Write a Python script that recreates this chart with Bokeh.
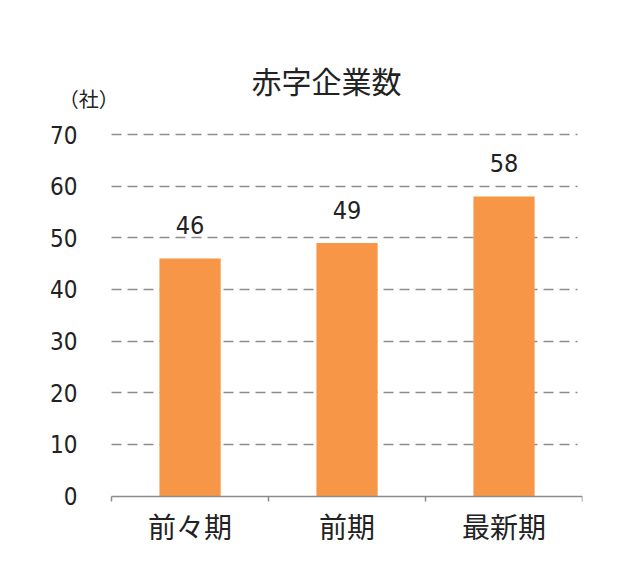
from bokeh.plotting import figure
from bokeh.models import Range1d, LinearAxis, FixedTicker, Label, ColumnDataSource, Grid
from bokeh.core.properties import value
from bokeh.embed import file_html
from bokeh.resources import INLINE

title_text = "赤字企業数"
unit_text = "（社）"
categories = ["前々期", "前期", "最新期"]
counts = [46, 49, 58]
y_ticks = [0, 10, 20, 30, 40, 50, 60, 70]

JP = "Noto Sans CJK JP"
NUM = "'Liberation Sans Narrow', 'DejaVu Sans Condensed', sans-serif"
BAR = "#F79646"
GRID = "#8c8c8c"
TXT = "#222222"

n = len(categories)
centers = [i + 0.5 for i in range(n)]
bounds = list(range(n + 1))

p = figure(width=624, height=552, x_range=Range1d(-0.389, n), y_range=Range1d(-10.55, 84.33),
           output_backend="svg", toolbar_location=None, x_axis_type=None, y_axis_type=None,
           min_border_left=50, min_border_right=42, min_border_top=60, min_border_bottom=2)
p.outline_line_color = None
p.background_fill_color = "white"
p.border_fill_color = "white"

# y axis placed at x = 0 (labels only)
yax = LinearAxis(ticker=FixedTicker(ticks=y_ticks), fixed_location=0)
yax.axis_line_color = None
yax.major_tick_line_color = None
yax.major_tick_out = 0
yax.major_tick_in = 0
yax.minor_tick_line_color = None
yax.major_label_standoff = 34
yax.major_label_text_font = NUM
yax.major_label_text_font_size = "24px"
yax.major_label_text_color = TXT
p.add_layout(yax, "left")

# x axis at y = 0: labels at category centres, ticks at category boundaries
xax = LinearAxis(ticker=FixedTicker(ticks=centers, minor_ticks=bounds),
                 major_label_overrides={c: lab for c, lab in zip(centers, categories)},
                 bounds=(0, n), fixed_location=0)
xax.axis_line_color = GRID
xax.axis_line_width = 1.5
xax.major_tick_line_color = None
xax.major_tick_out = 0
xax.major_tick_in = 0
xax.minor_tick_line_color = GRID
xax.minor_tick_line_width = 1.5
xax.minor_tick_out = 5
xax.minor_tick_in = 0
xax.major_label_standoff = 5
xax.major_label_text_font = JP
xax.major_label_text_font_size = "28px"
xax.major_label_text_color = TXT
p.add_layout(xax, "below")

# dashed horizontal gridlines
grid = Grid(dimension=1, ticker=FixedTicker(ticks=y_ticks[1:]))
grid.grid_line_color = GRID
grid.grid_line_width = 1.5
grid.grid_line_dash = "10 6"
try:
    grid.cross_bounds = (0, 2.97)
except Exception:
    pass
p.add_layout(grid)

src = ColumnDataSource(dict(x=centers, val=counts, lab=[str(v) for v in counts]))
p.vbar(x="x", top="val", width=0.39, source=src, fill_color=BAR, line_color=None)
p.text(x="x", y="val", text="lab", source=src, text_align="center", text_baseline="middle",
       y_offset=-33, text_font=value(NUM), text_font_size="25px", text_color=TXT)

p.add_layout(Label(x=1.369, y=80.56, text=title_text, text_align="center",
                   text_baseline="middle", text_font=JP, text_font_size="30px",
                   text_color=TXT))
p.add_layout(Label(x=-0.146, y=76.88, text=unit_text, text_align="center",
                   text_baseline="middle", text_font=JP, text_font_size="20px",
                   text_color=TXT))

open("out.html", "w").write(file_html(p, INLINE))
